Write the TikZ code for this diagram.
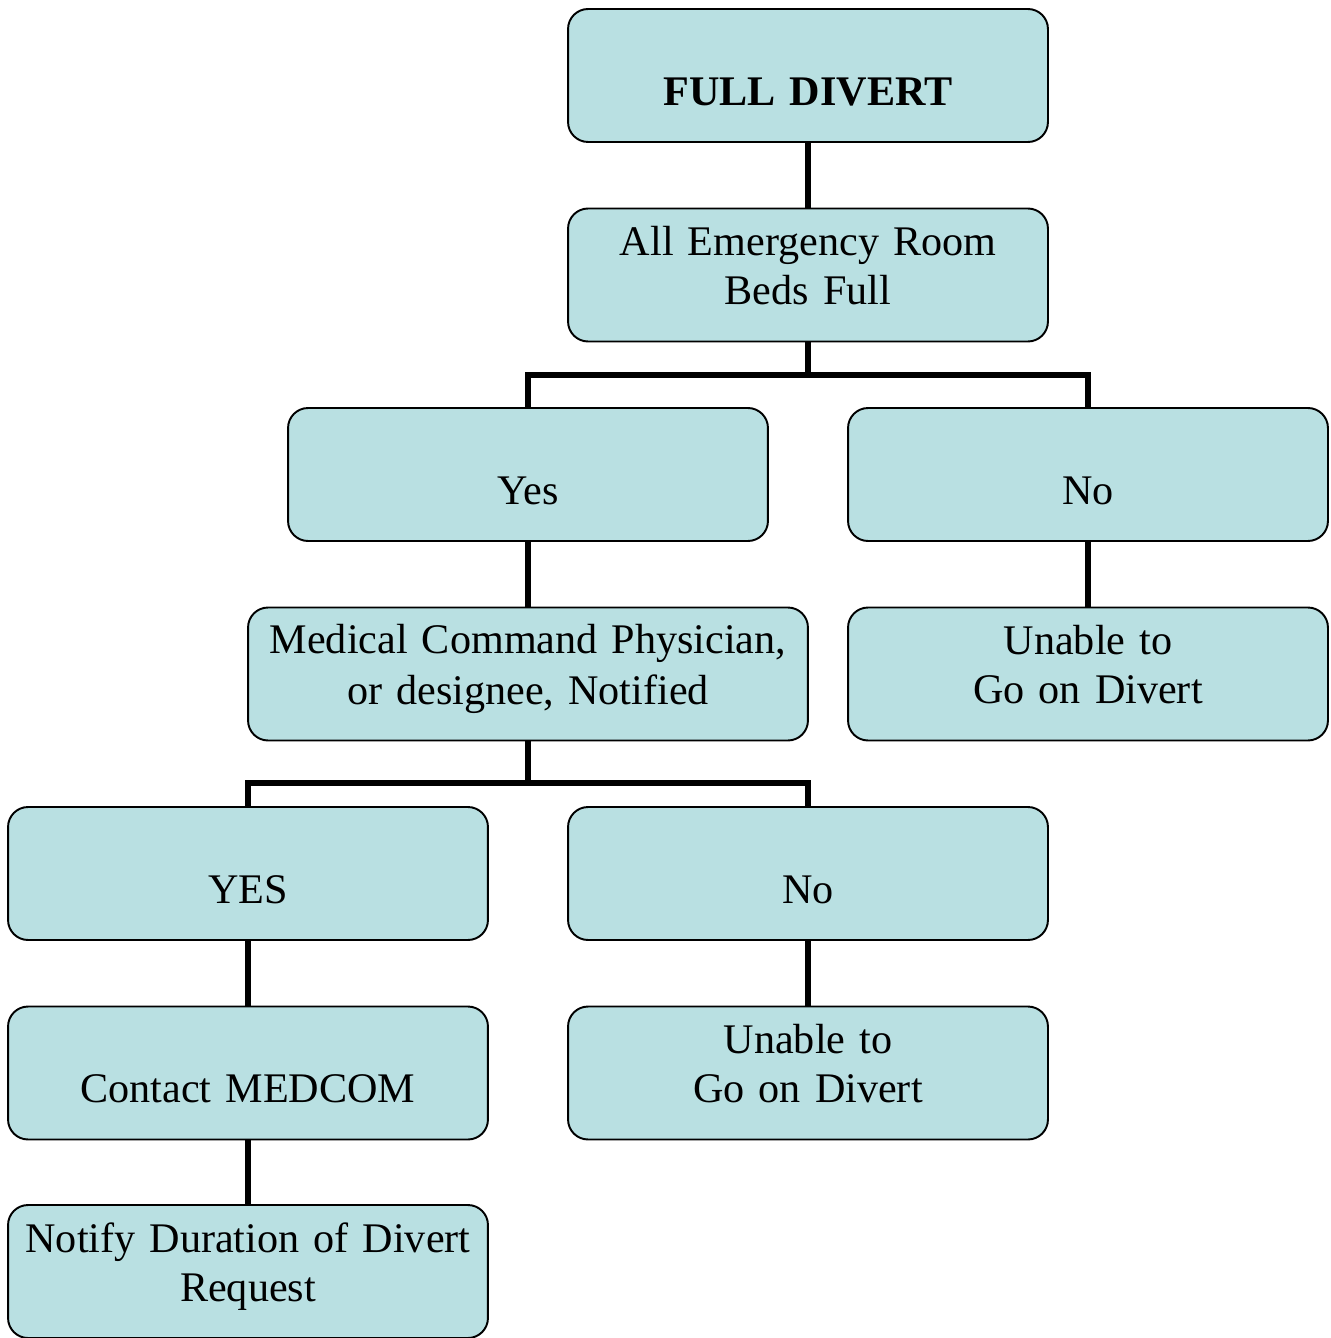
\documentclass[tikz,border=0pt]{standalone}
\usepackage{fontspec}
\setmainfont{Liberation Serif}
\definecolor{boxfill}{HTML}{B9E0E2}
\tikzset{
  box/.style={draw=black, fill=boxfill, line width=1.1pt, rounded corners=0.4cm,
    text width=9.2cm, inner xsep=0.2cm, inner ysep=0pt, minimum height=2.66cm,
    align=center, font=\fontsize{24}{27.8}\selectfont},
  wide/.style={box, text width=10.8cm},
  link/.style={draw=black, line width=3.4pt}
}
\newcommand{\TwoRows}[2]{%
  % #1 = upper row (may be empty), #2 = lower row
  \rule[-11pt]{0pt}{27.8pt}#1\\\rule[-11pt]{0pt}{27.8pt}#2}

\begin{document}
\begin{tikzpicture}[x=0.02cm, y=-0.02cm]
  \useasboundingbox (0,0) rectangle (1331,1338);
  \node[box] (full) at (808,75.5) {\TwoRows{}{\textbf{FULL DIVERT}}};
  \node[box] (beds) at (808,275) {\TwoRows{All Emergency Room}{Beds Full}};
  \node[box] (yes) at (528,474.5) {\TwoRows{}{Yes}};
  \node[box] (no) at (1088,474.5) {\TwoRows{}{No}};
  \node[wide] (notified) at (528,674) {\TwoRows{Medical Command Physician,}{or designee, Notified}};
  \node[box] (unable) at (1088,674) {\TwoRows{Unable to}{Go on Divert}};
  \node[box] (yes2) at (248,873.5) {\TwoRows{}{YES}};
  \node[box] (no2) at (808,873.5) {\TwoRows{}{No}};
  \node[box] (medcom) at (248,1073) {\TwoRows{}{Contact MEDCOM}};
  \node[box] (unable2) at (808,1073) {\TwoRows{Unable to}{Go on Divert}};
  \node[box] (duration) at (248,1271.5) {\TwoRows{Notify Duration of Divert}{Request}};
  % connectors
  \coordinate (fork1) at (808,375);
  \coordinate (fork2) at (528,783);
  \draw[link] (full) -- (beds);
  \draw[link] (beds) -- (fork1) -| (yes);
  \draw[link] (fork1) -| (no);
  \draw[link] (yes) -- (notified);
  \draw[link] (no) -- (unable);
  \draw[link] (notified) -- (fork2) -| (yes2);
  \draw[link] (fork2) -| (no2);
  \draw[link] (yes2) -- (medcom);
  \draw[link] (no2) -- (unable2);
  \draw[link] (medcom) -- (duration);
\end{tikzpicture}
\end{document}
